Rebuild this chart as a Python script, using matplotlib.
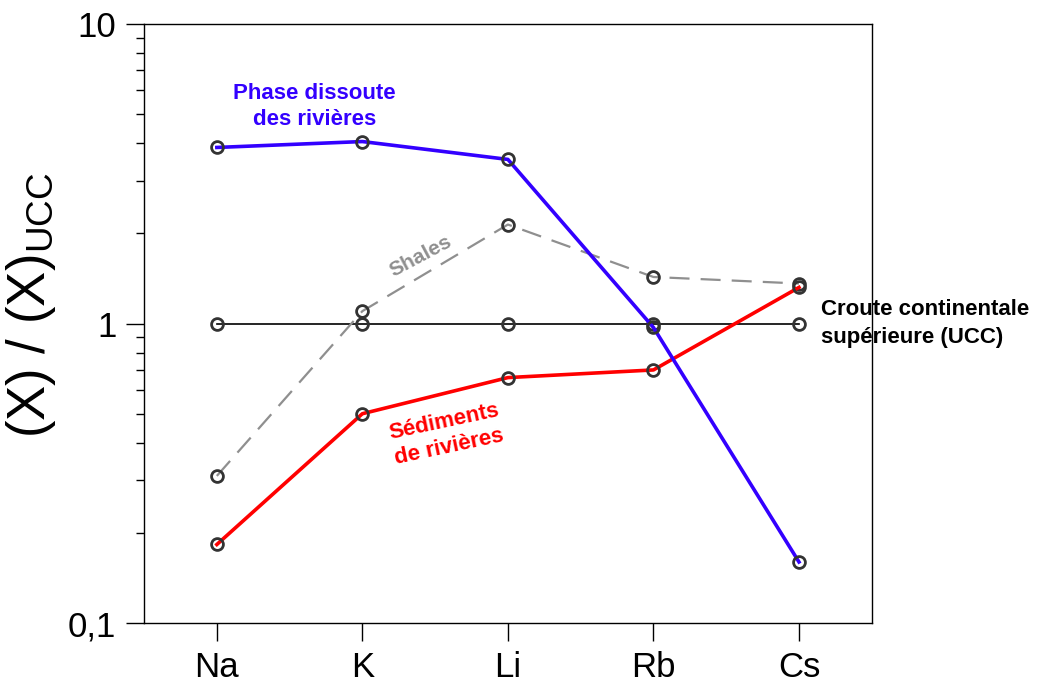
import matplotlib.pyplot as plt
from matplotlib.ticker import LogLocator, FixedLocator, NullFormatter

# DATA
elements = ['Na', 'K', 'Li', 'Rb', 'Cs']
dissolved = [3.87, 4.05, 3.53, 0.97, 0.16]
sediments = [0.183, 0.50, 0.66, 0.70, 1.32]
shales = [0.31, 1.10, 2.14, 1.43, 1.36]
ucc = [1, 1, 1, 1, 1]

plt.rcParams['font.family'] = ['Liberation Sans', 'DejaVu Sans']

fig = plt.figure(figsize=(10.44, 6.84), dpi=100)
ax = fig.add_axes([0.138, 0.089, 0.697, 0.876])

x = list(range(len(elements)))
mk = dict(marker='o', markersize=8.5, markerfacecolor='none',
          markeredgecolor='#333333', markeredgewidth=2)

ax.plot(x, ucc, color='black', lw=1.2, zorder=2, **mk)
ax.plot(x, shales, color='#8f8f8f', lw=1.6, dashes=(9, 5), zorder=3, **mk)
ax.plot(x, sediments, color='#ff0000', lw=2.6, zorder=4, **mk)
ax.plot(x, dissolved, color='#3300ff', lw=2.6, zorder=5, **mk)

ax.set_yscale('log')
ax.set_ylim(0.1, 10)
ax.set_xlim(-0.5, 4.5)
ax.set_xticks(x)
ax.set_xticklabels(elements)
ax.yaxis.set_major_locator(FixedLocator([0.1, 1, 10]))
ax.set_yticklabels(['0,1', '1', '10'])
ax.yaxis.set_minor_locator(LogLocator(base=10, subs=range(2, 10)))
ax.yaxis.set_minor_formatter(NullFormatter())

ax.tick_params(axis='both', which='major', direction='out', length=13,
               width=1, labelsize=25, pad=7)
ax.tick_params(axis='y', which='minor', direction='out', length=6, width=1)
for s in ax.spines.values():
    s.set_linewidth(1)

ax.set_ylabel(r'(X) / (X)$_{\mathregular{UCC}}$', fontsize=38)
ax.yaxis.set_label_coords(-0.118, 0.53)

# ANNOTATIONS
ax.text(0.67, 5.3, 'Phase dissoute\ndes rivières', color='#3300ff',
        fontsize=16, fontweight='bold', ha='center', va='center',
        linespacing=1.3)
ax.text(1.4, 1.68, 'Shales', color='#8f8f8f', fontsize=15,
        fontweight='bold', ha='center', va='center', rotation=28)
ax.text(1.58, 0.425, 'Sédiments\nde rivières', color='#ff0000', fontsize=16,
        fontweight='bold', ha='center', va='center', rotation=12,
        linespacing=1.3)
ax.text(4.15, 1.0, 'Croute continentale\nsupérieure (UCC)', color='black',
        fontsize=16, fontweight='bold', ha='left', va='center',
        linespacing=1.45, clip_on=False)

fig.savefig('out.png', dpi=100)
